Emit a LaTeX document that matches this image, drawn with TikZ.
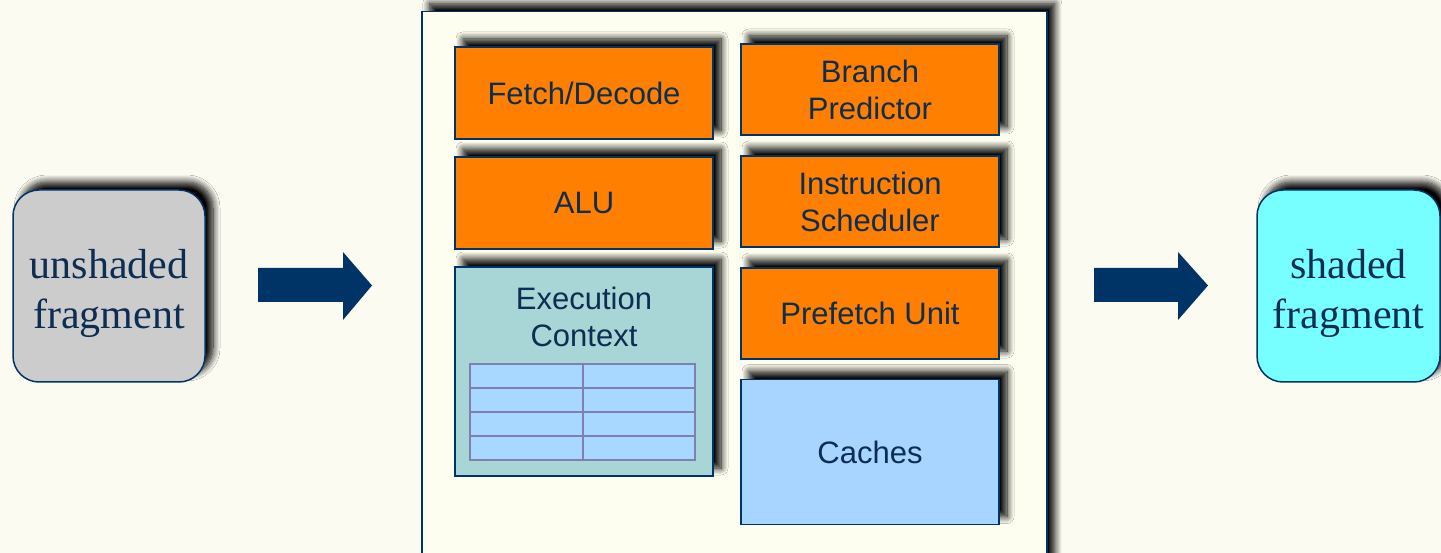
\documentclass[tikz,border=0pt]{standalone}
\usepackage{fontspec}
\setmainfont{Liberation Serif}
\setsansfont{Liberation Sans}
\usetikzlibrary{shadows.blur}
\definecolor{bg}{HTML}{FCFBF2}
\definecolor{boxbg}{HTML}{FEFEF0}
\definecolor{navy}{HTML}{003366}
\definecolor{txt}{HTML}{0D2D52}
\definecolor{orng}{HTML}{FF7F00}
\definecolor{ctxfill}{HTML}{A8D5D5}
\definecolor{cachefill}{HTML}{A8D5FF}
\definecolor{regfill}{HTML}{A8D8FF}
\definecolor{regline}{HTML}{8080B0}
\definecolor{unshfill}{HTML}{CCCCCC}
\definecolor{shfill}{HTML}{77FFFF}
\begin{document}
\begin{tikzpicture}[x=1pt,y=-1pt,
  shad/.style={blur shadow={shadow xshift=8pt,shadow yshift=8pt,shadow blur steps=10,shadow blur radius=7pt,shadow opacity=100}},
  unit/.style={draw=navy,line width=1.5pt,fill=orng,shad,minimum width=258pt,minimum height=92pt,inner sep=0pt,font=\sffamily\fontsize{31}{37}\selectfont,text=txt,align=center},
  frag/.style={draw=navy,line width=1.5pt,rounded corners=26pt,shad,minimum height=192pt,inner sep=0pt},
  fragtext/.style={inner sep=0pt,font=\fontsize{42}{50}\selectfont,text=txt,align=center},
  blockarrow/.style={fill=navy},
  reg/.style={draw=regline,line width=1.2pt,fill=regfill}]
\useasboundingbox (0,0) rectangle (1441,553);
\clip (0,0) rectangle (1441,553);
\fill[bg] (0,0) rectangle (1441,553);
% fragments
\node[frag,fill=unshfill,minimum width=192pt] (unsh) at (109,286) {};
\node[fragtext] (unshtext) at ([yshift=-7pt]unsh.center) {unshaded\\fragment};
\node[frag,fill=shfill,minimum width=183pt] (sh) at (1348.5,286) {};
\node[fragtext] (shtext) at ([yshift=-7pt]sh.center) {shaded\\fragment};
% block arrows
\fill[blockarrow] (258,268) -- (343,268) -- (343,252) -- (372,285.5) -- (343,320) -- (343,302) -- (258,302) -- cycle;
\fill[blockarrow] (1094,268) -- (1178,268) -- (1178,252) -- (1208,285.5) -- (1178,320) -- (1178,302) -- (1094,302) -- cycle;
% core box
\node[draw=navy,line width=1.5pt,fill=boxbg,shad,minimum width=625pt,minimum height=600pt,inner sep=0pt,anchor=north west] (core) at (421,11) {};
% left column
\node[unit] (fetch) at (584,93) {Fetch/Decode};
\node[unit] (alu) at (584,203) {ALU};
\node[unit,fill=ctxfill,minimum height=209pt] (ctx) at (584,371.5) {};
\node[anchor=north,inner sep=0pt,font=\sffamily\fontsize{31}{37}\selectfont,text=txt,align=center] (ctxlabel) at ([yshift=-21pt]ctx.north) {Execution\\Context};
\path[reg] (470,364) rectangle (695,460);
\foreach \yy in {388,412,436} \draw[regline,line width=1.2pt] (470,\yy) -- (695,\yy);
\draw[regline,line width=1.2pt] (583,364) -- (583,460);
% right column
\node[unit,minimum height=91pt] (branch) at (870,89.5) {Branch\\Predictor};
\node[unit,minimum height=91pt] (sched) at (870,201.5) {Instruction\\Scheduler};
\node[unit,minimum height=91pt] (prefetch) at (870,313.5) {Prefetch Unit};
\node[unit,fill=cachefill,minimum height=145pt] (caches) at (870,452) {Caches};
\end{tikzpicture}
\end{document}
